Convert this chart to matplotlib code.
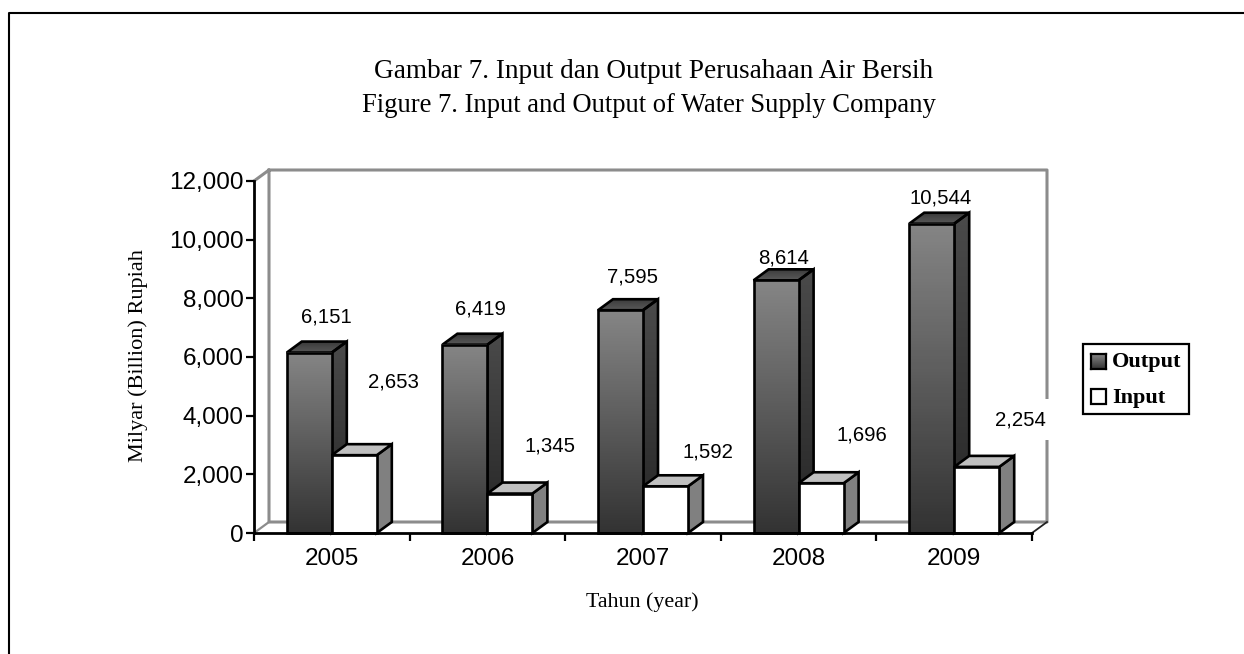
import matplotlib
matplotlib.use("Agg")
import matplotlib.pyplot as plt
from matplotlib.colors import LinearSegmentedColormap
from matplotlib.patches import Polygon, Rectangle
from matplotlib.ticker import FuncFormatter
import numpy as np

# data
years = ["2005", "2006", "2007", "2008", "2009"]
output_vals = [6151, 6419, 7595, 8614, 10544]
input_vals = [2653, 1345, 1592, 1696, 2254]

# label offset from the top of the front face, in pixels
out_lab_off = [(17, 36), (16, 36), (12, 33), (7, 22), (9, 26)]
in_lab_off = [(39, 73), (40, 48), (42, 34), (41, 48), (44, 47)]

W, H = 1244, 654
fig = plt.figure(figsize=(W / 100, H / 100), dpi=100)
ax = fig.add_axes([254 / W, 1 - 533 / H, (1032 - 254) / W, 352 / H])
ax.set_xlim(-0.5, 4.5)
ax.set_ylim(0, 12000)

# 3d offset converted to data units
dx = 15 / (778 / 5)
dy = 11 / (352 / 12000)
bw = 45 / (778 / 5)

# back wall and floor
wall = "#8c8c8c"
ax.plot([-0.5, -0.5 + dx, -0.5 + dx, 4.5 + dx, 4.5 + dx, -0.5 + dx], [12000, 12000 + dy, dy, dy, 12000 + dy, 12000 + dy],
        color=wall, lw=2.2, clip_on=False, zorder=1)
ax.plot([-0.5, -0.5 + dx], [0, dy], color=wall, lw=1.6, clip_on=False, zorder=1)
ax.plot([4.5, 4.5 + dx], [0, dy], color="#222222", lw=1.3, clip_on=False, zorder=1.5)

grad = np.linspace(0, 1, 100).reshape(-1, 1)
cmap_front = LinearSegmentedColormap.from_list("f", ["#858585", "#333333"])
cmap_side = LinearSegmentedColormap.from_list("s", ["#4a4a4a", "#262626"])
cmap_top = LinearSegmentedColormap.from_list("t", ["#3a3a3a", "#5a5a5a"])
lw_bar = 1.9


def draw_bar(x0, v, z, dark):
    x1 = x0 + bw
    top = [(x0, v), (x1, v), (x1 + dx, v + dy), (x0 + dx, v + dy)]
    side = [(x1, 0), (x1 + dx, dy), (x1 + dx, v + dy), (x1, v)]
    if dark:
        for pts, cm in ((side, cmap_side), (top, cmap_top)):
            xs = [p[0] for p in pts]
            ys = [p[1] for p in pts]
            im = ax.imshow(grad, cmap=cm, aspect="auto", extent=[min(xs), max(xs), min(ys), max(ys)], zorder=z)
            im.set_clip_box(None)
            im.set_clip_path(Polygon(pts, transform=ax.transData))
            ax.add_patch(Polygon(pts, fill=False, ec="black", lw=lw_bar, zorder=z + 0.1, clip_on=False))
        ax.imshow(grad, cmap=cmap_front, aspect="auto", extent=[x0, x1, 0, v], zorder=z + 0.1)
        ax.add_patch(Rectangle((x0, 0), bw, v, fill=False, ec="black", lw=lw_bar, zorder=z + 0.2, clip_on=False))
    else:
        ax.add_patch(Polygon(side, fc="#808080", ec="black", lw=lw_bar, zorder=z, clip_on=False))
        ax.add_patch(Polygon(top, fc="#c0c0c0", ec="black", lw=lw_bar, zorder=z, clip_on=False))
        ax.bar(x0, v, bw, align="edge", color="white", ec="black", lw=lw_bar, zorder=z + 0.1, clip_on=False)


for i in range(len(years)):
    draw_bar(i - bw, output_vals[i], 3 + i, True)
    draw_bar(i, input_vals[i], 3.5 + i, False)

for i in range(len(years)):
    ax.annotate(f"{output_vals[i]:,}", (i - bw / 2, output_vals[i]), xytext=out_lab_off[i], textcoords="offset pixels",
                ha="center", va="center", fontsize=14.7, family="Liberation Sans", zorder=20, annotation_clip=False)
    ax.annotate(f"{input_vals[i]:,}", (i + bw / 2, input_vals[i]), xytext=in_lab_off[i], textcoords="offset pixels",
                ha="center", va="center", fontsize=14.7, family="Liberation Sans", zorder=20, annotation_clip=False,
                bbox=dict(fc="white", ec="none", pad=8))

ax.set_xlim(-0.5, 4.5)
ax.set_ylim(0, 12000)
ax.patch.set_alpha(0)

for s in ("top", "right"):
    ax.spines[s].set_visible(False)
for s in ("left", "bottom"):
    ax.spines[s].set_linewidth(2)
    ax.spines[s].set_zorder(15)

ax.set_yticks(range(0, 12001, 2000))
ax.yaxis.set_major_formatter(FuncFormatter(lambda v, p: f"{int(v):,}"))
ax.set_xticks(np.arange(-0.5, 4.6, 1))
ax.set_xticklabels([])
ax.set_xticks(range(5), minor=True)
ax.set_xticklabels(years, minor=True, fontsize=17.5, family="Liberation Sans")
ax.tick_params(axis="x", which="minor", length=0, pad=11)
ax.tick_params(axis="x", which="major", length=6, width=1.6, direction="out")
ax.tick_params(axis="y", length=6, width=1.6, pad=1.5)
for t in ax.get_yticklabels():
    t.set_fontsize(17.5)
    t.set_family("Liberation Sans")

fig.text(654 / W, 1 - 71 / H, "Gambar 7. Input dan Output Perusahaan Air Bersih", ha="center", va="center",
         fontsize=19.6, family="Liberation Serif")
fig.text(649 / W, 1 - 105.5 / H, "Figure 7. Input and Output of Water Supply Company", ha="center", va="center",
         fontsize=19.2, family="Liberation Serif")
fig.text(138.5 / W, 1 - 356 / H, "Milyar (Billion) Rupiah", rotation=90, ha="center", va="center",
         fontsize=16, family="Liberation Serif")
fig.text(642 / W, 1 - 602 / H, "Tahun (year)", ha="center", va="center", fontsize=15.8, family="Liberation Serif")

# legend box drawn by hand to keep the small gradient key
fig.add_artist(Rectangle((1083 / W, 1 - 414 / H), 106 / W, 70 / H, fill=False, ec="black", lw=1.6, transform=fig.transFigure))
key = fig.add_axes([1091 / W, 1 - 369 / H, 15 / W, 15 / H])
key.imshow(grad, cmap=cmap_front, aspect="auto")
key.set_xticks([])
key.set_yticks([])
for s in key.spines.values():
    s.set_linewidth(1.6)
fig.add_artist(Rectangle((1091 / W, 1 - 404 / H), 15 / W, 15 / H, fc="white", ec="black", lw=1.6, transform=fig.transFigure))
fig.text(1112 / W, 1 - 362 / H, "Output", ha="left", va="center", fontsize=16, fontweight="bold", family="Liberation Serif")
fig.text(1112 / W, 1 - 398 / H, "Input", ha="left", va="center", fontsize=16, fontweight="bold", family="Liberation Serif")

# outer frame
fig.add_artist(plt.Line2D([8.5 / W, 8.5 / W, 1], [0, 1 - 13 / H, 1 - 13 / H], color="black", lw=1.5, transform=fig.transFigure))

fig.savefig("out.png", dpi=100)
